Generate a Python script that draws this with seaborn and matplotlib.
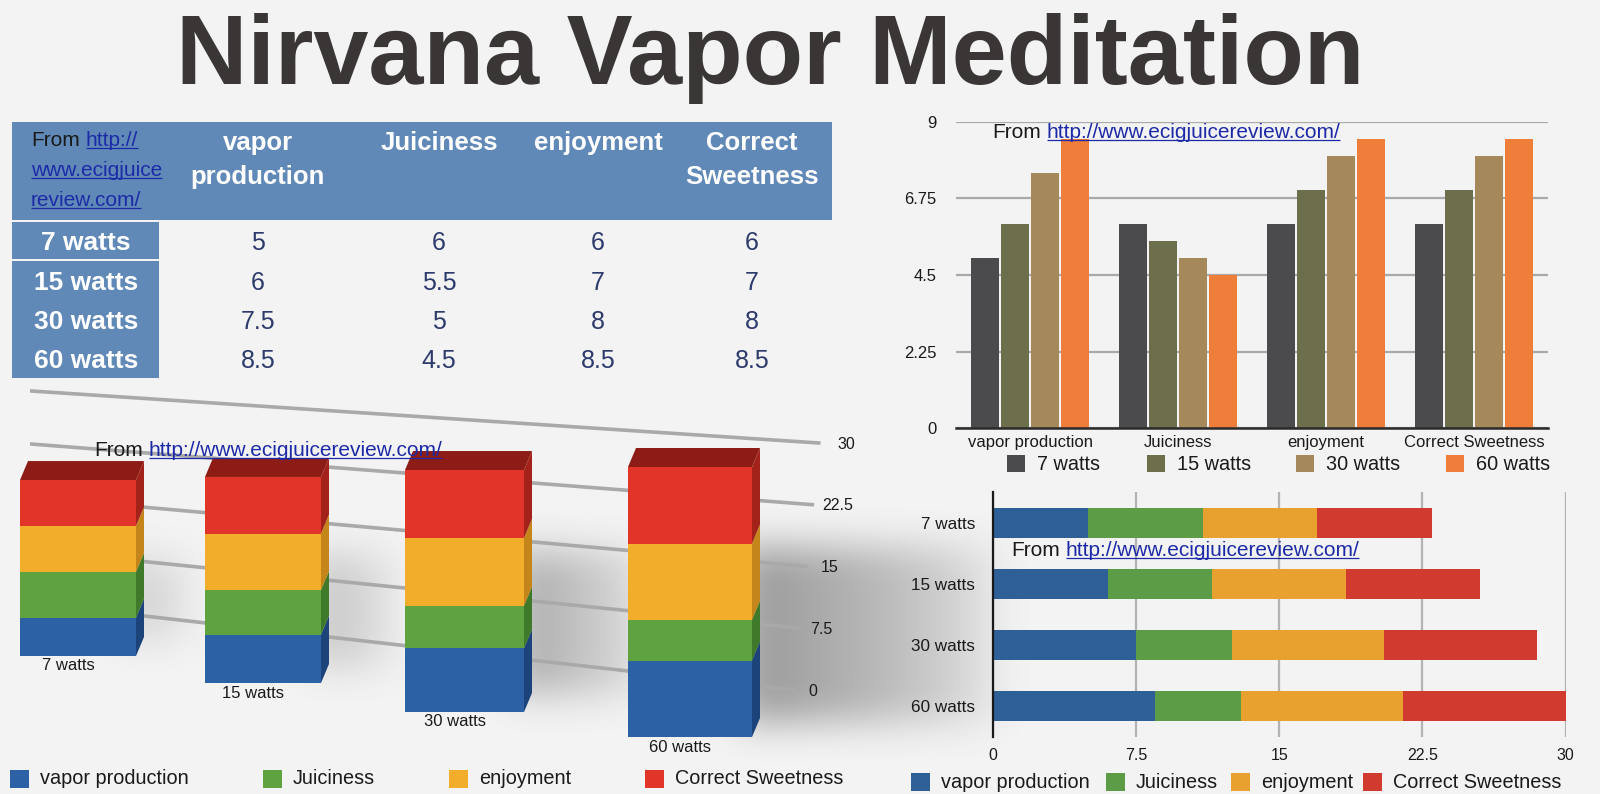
import numpy as np
import pandas as pd
import matplotlib
matplotlib.use("Agg")
import matplotlib.pyplot as plt
import seaborn as sns
from matplotlib.patches import Rectangle, Polygon

# ---------------- data ----------------
title = "Nirvana Vapor Meditation"
watts = ["7 watts", "15 watts", "30 watts", "60 watts"]
attributes = ["vapor production", "Juiciness", "enjoyment", "Correct Sweetness"]
header_labels = ["vapor\nproduction", "Juiciness", "enjoyment", "Correct\nSweetness"]
vapor_production = [5, 6, 7.5, 8.5]
juiciness = [6, 5.5, 5, 4.5]
enjoyment = [6, 7, 8, 8.5]
correct_sweetness = [6, 7, 8, 8.5]
top_ticks = [0, 2.25, 4.5, 6.75, 9]
stack_ticks = [0, 7.5, 15, 22.5, 30]
source_prefix = "From"
source_url = "http://www.ecigjuicereview.com/"
table_source = ["http://", "www.ecigjuice", "review.com/"]

series = [vapor_production, juiciness, enjoyment, correct_sweetness]

# ---------------- style ----------------
W, H = 1600, 794
BG = "#f3f3f3"
TXT = "#1a1a1a"
LINK = "#1c2aa8"
HEADER_BLUE = "#6189b8"
VALUE_NAVY = "#2c3a6c"
top_colors = ["#4b4b4e", "#6d6e4b", "#a6895b", "#ef7e3a"]
stack_colors = ["#2f5f97", "#5c9c46", "#e8a02e", "#d13a2f"]
c3d = ["#2c61a6", "#5ea33f", "#f2ad2b", "#e2352a"]
side3d = ["#1d447a", "#3e7a2a", "#c4861b", "#a3231b"]
cap3d = "#8c1c15"

sns.set_theme(style="white")
plt.rcParams["font.family"] = ["Liberation Sans", "DejaVu Sans"]
plt.rcParams["text.color"] = TXT

fig = plt.figure(figsize=(16, 7.94), dpi=100, facecolor=BG)


def frac_box(x0, y0, x1, y1):
    return [x0 / W, (H - y1) / H, (x1 - x0) / W, (y1 - y0) / H]


bg = fig.add_axes([0, 0, 1, 1], zorder=0)
bg.set_facecolor(BG)
fg = fig.add_axes([0, 0, 1, 1], zorder=20)
fg.set_facecolor("none")
for a in (bg, fg):
    a.set_xlim(0, W)
    a.set_ylim(H, 0)
    a.axis("off")

renderer = fig.canvas.get_renderer()


def link_text(ax, x, yc, size, prefix, url):
    em = size * 100 / 72
    yb = yc + 0.36 * em
    xu = x
    if prefix:
        t1 = ax.text(x, yb, prefix, fontsize=size, color=TXT, ha="left", va="baseline")
        bb = t1.get_window_extent(renderer)
        xu = ax.transData.inverted().transform((bb.x1, bb.y0))[0] + 0.278 * em
    t2 = ax.text(xu, yb, url, fontsize=size, color=LINK, ha="left", va="baseline")
    bb2 = t2.get_window_extent(renderer)
    xe = ax.transData.inverted().transform((bb2.x1, bb2.y0))[0]
    ax.plot([xu, xe], [yb + 0.11 * em] * 2, color=LINK, lw=0.9, solid_capstyle="butt")


# ---------------- title ----------------
bg.text(770, 84, title, fontsize=71.3, fontweight="bold", color="#3a3636",
        ha="center", va="baseline")

# ---------------- table ----------------
col_x = [258, 439, 598, 752]
row_y = [243, 283, 322, 361]
bg.add_patch(Rectangle((12, 122), 820, 98, color=HEADER_BLUE, lw=0))
bg.add_patch(Rectangle((12, 222), 147, 37, color=HEADER_BLUE, lw=0))
bg.add_patch(Rectangle((12, 261), 147, 117, color=HEADER_BLUE, lw=0))
for j, lab in enumerate(header_labels):
    for li, line in enumerate(lab.split("\n")):
        bg.text(col_x[j], 143 + 34 * li, line, fontsize=18.5, fontweight="bold",
                color="white", ha="center", va="center")
for i, w in enumerate(watts):
    bg.text(86, row_y[i], w, fontsize=19, fontweight="bold", color="white",
            ha="center", va="center")
    for j in range(4):
        bg.text(col_x[j], row_y[i], f"{series[j][i]:g}", fontsize=18, color=VALUE_NAVY,
                ha="center", va="center")
link_text(bg, 31, 138, 15, source_prefix, table_source[0])
link_text(bg, 31, 168, 15, "", table_source[1])
link_text(bg, 31, 198, 15, "", table_source[2])

# ---------------- 3D-like stacked chart (bottom left) ----------------
totals = [sum(s[i] for s in series) for i in range(4)]
bar_left = [20, 205, 405, 628]
bar_right = [136, 321, 524, 752]
bar_base = [656, 683, 712, 737]
bar_scale = [7.65, 8.08, 8.49, 9.0]
cap_px = 19
side_px = 8

# soft shadows
gy, gx = np.mgrid[0:H:4, 0:W:4] + 2.0
shadow = np.zeros(gx.shape)
shadow_len = [70, 90, 140, 260]
shadow_strength = [0.30, 0.38, 0.55, 0.70]
for i in range(4):
    x0 = bar_right[i] - 10
    top = bar_base[i] - totals[i] * bar_scale[i] + 80
    bot = bar_base[i] - 15
    m = (gx >= x0) & (gx <= x0 + shadow_len[i]) & (gy >= top) & (gy <= bot)
    fade = np.clip(1 - (gx - x0) / shadow_len[i], 0, 1) ** 0.6
    shadow = np.maximum(shadow, m * fade * shadow_strength[i])


def blur(a, k):
    ker = np.ones(k) / k
    a = np.apply_along_axis(lambda r: np.convolve(r, ker, mode="same"), 1, a)
    a = np.apply_along_axis(lambda c: np.convolve(c, ker, mode="same"), 0, a)
    return a


for _ in range(3):
    shadow = blur(shadow, 9)
img = np.zeros(shadow.shape + (4,))
img[..., :3] = 0.45
img[..., 3] = np.clip(shadow, 0, 1)
bg.imshow(img, extent=(0, W, H, 0), aspect="auto", zorder=1, interpolation="bilinear")
bg.set_xlim(0, W)
bg.set_ylim(H, 0)

# receding gridlines
for v in stack_ticks:
    yl = 603 - v * 7.07
    yr = 690 - v * 8.23
    xe = 795 + v * 0.85
    bg.plot([30, xe], [yl, yr], color="#a9a9a9", lw=2.6, solid_capstyle="butt", zorder=2)
    bg.text(813 + v * 1.1, yr + 1, f"{v:g}", fontsize=11.5, color=TXT,
            ha="center", va="center", zorder=3)

for i in range(4):
    ax = fig.add_axes(frac_box(bar_left[i], bar_base[i] - 30 * bar_scale[i],
                               bar_right[i], bar_base[i]), zorder=3 + i)
    ax.set_facecolor("none")
    ax.set_xlim(-0.5, 0.5)
    ax.set_ylim(0, 30)
    ax.axis("off")
    sw = side_px / (bar_right[i] - bar_left[i])
    cu = cap_px / bar_scale[i]
    b = 0.0
    for k in range(4):
        v = series[k][i]
        ax.bar(0, v, bottom=b, width=1.0, color=c3d[k], linewidth=0)
        ax.add_patch(Polygon([(0.5, b), (0.5 + sw, b + cu), (0.5 + sw, b + v + cu), (0.5, b + v)],
                             closed=True, color=side3d[k], lw=0, clip_on=False))
        b += v
    ax.add_patch(Polygon([(-0.5, b), (0.5, b), (0.5 + sw, b + cu), (-0.5 + sw, b + cu)],
                         closed=True, color=cap3d, lw=0, clip_on=False))
    cx = (bar_left[i] + bar_right[i]) / 2
    fg.text(cx - 10, bar_base[i] + 10, watts[i], fontsize=12, color=TXT,
            ha="center", va="center")

link_text(fg, 94, 448, 15, source_prefix, source_url)

leg3d_sq = [10, 263, 449, 645]
for k in range(4):
    fg.add_patch(Rectangle((leg3d_sq[k], 770), 19, 18, color=c3d[k], lw=0))
    fg.text(leg3d_sq[k] + 30, 779, attributes[k], fontsize=14.3, color=TXT,
            ha="left", va="center")

# ---------------- grouped bar chart (top right) ----------------
rows = []
for a_i, att in enumerate(attributes):
    for w_i, w in enumerate(watts):
        rows.append({"attribute": att, "watts": w, "score": series[a_i][w_i]})
df_long = pd.DataFrame(rows)

ax1 = fig.add_axes(frac_box(956, 122, 1548, 428), zorder=2)
ax1.set_facecolor("none")
sns.barplot(data=df_long, x="attribute", y="score", hue="watts", order=attributes,
            hue_order=watts, palette=top_colors, width=0.81, gap=0.08, saturation=1,
            errorbar=None, legend=False, linewidth=0, ax=ax1)
ax1.set_xlim(-0.5, 3.5)
ax1.set_ylim(0, 9)
ax1.set_yticks(top_ticks)
ax1.set_yticklabels([f"{t:g}" for t in top_ticks])
ax1.yaxis.grid(True, color="#a9a9a9", lw=1.6)
ax1.set_axisbelow(True)
for s in ("left", "right", "top"):
    ax1.spines[s].set_visible(False)
ax1.spines["bottom"].set_color("#2a2a2a")
ax1.spines["bottom"].set_linewidth(1.8)
ax1.tick_params(axis="y", length=0, pad=14, labelsize=12, labelcolor=TXT)
ax1.tick_params(axis="x", length=0, pad=5, labelsize=12, labelcolor=TXT)
ax1.set_xlabel("")
ax1.set_ylabel("")

link_text(fg, 992, 130, 15, source_prefix, source_url)
leg_top_sq = [1007, 1147, 1296, 1446]
for k in range(4):
    fg.add_patch(Rectangle((leg_top_sq[k], 455), 18, 17, color=top_colors[k], lw=0))
    fg.text(leg_top_sq[k] + 30, 464, watts[k], fontsize=14.3, color=TXT,
            ha="left", va="center")

# ---------------- horizontal stacked chart (bottom right) ----------------
cum = np.cumsum(np.array(series, dtype=float), axis=0)
ax2 = fig.add_axes(frac_box(993, 492, 1565.5, 737), zorder=2)
ax2.set_facecolor("none")
for k in reversed(range(4)):
    sns.barplot(x=cum[k], y=watts, orient="h", color=stack_colors[k], width=0.49,
                saturation=1, errorbar=None, linewidth=0, ax=ax2)
ax2.set_xlim(0, 30)
ax2.set_ylim(3.5, -0.5)
ax2.set_xticks(stack_ticks)
ax2.set_xticklabels([f"{t:g}" for t in stack_ticks])
ax2.xaxis.grid(True, color="#b3b3b3", lw=1.6)
ax2.set_axisbelow(True)
for s in ("bottom", "right", "top"):
    ax2.spines[s].set_visible(False)
ax2.spines["left"].set_color("#1a1a1a")
ax2.spines["left"].set_linewidth(1.6)
ax2.tick_params(axis="y", length=0, pad=13, labelsize=12.3, labelcolor=TXT)
ax2.tick_params(axis="x", length=0, pad=8, labelsize=11.5, labelcolor=TXT)
ax2.set_xlabel("")
ax2.set_ylabel("")

link_text(fg, 1011, 548, 15, source_prefix, source_url)
leg_bot_sq = [911, 1106, 1231, 1363]
for k in range(4):
    fg.add_patch(Rectangle((leg_bot_sq[k], 773), 19, 18, color=stack_colors[k], lw=0))
    fg.text(leg_bot_sq[k] + 30, 782, attributes[k], fontsize=14.3, color=TXT,
            ha="left", va="center")

fig.savefig("out.png", dpi=100, facecolor=BG)
